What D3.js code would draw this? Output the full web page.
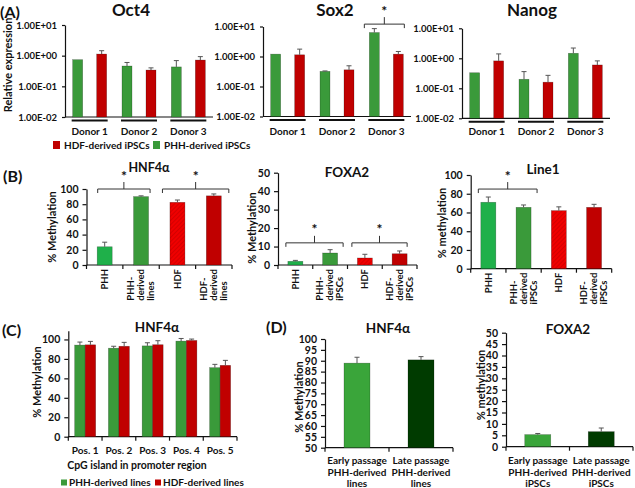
<!DOCTYPE html>
<html>
<head>
<meta charset="utf-8">
<title>iPSC expression and methylation</title>
<style>
  body { margin: 0; background: white; }
  svg text { font-family: Lato, "Open Sans", sans-serif; font-weight: bold; fill: #111; }
  .axis path, .axis line { stroke: #111; stroke-width: 1.2; }
</style>
<script src="https://d3js.org/d3.v7.min.js"></script>
</head>
<body>
<div id="chart"></div>
<script>
// ---- data ----
const donors = ["Donor 1", "Donor 2", "Donor 3"];
const logTicks = [0.01, 0.1, 1, 10];
const oct4Phh = [0.74, 0.46, 0.43], oct4PhhErr = [0, 0.14, 0.26];
const oct4Hdf = [1.13, 0.34, 0.72], oct4HdfErr = [0.32, 0.06, 0.21];
const sox2Phh = [1.2, 0.32, 6.3], sox2PhhErr = [0, 0.01, 2.2];
const sox2Hdf = [1.14, 0.36, 1.2], sox2HdfErr = [0.62, 0.13, 0.27];
const nanogPhh = [0.33, 0.2, 1.47], nanogPhhErr = [0, 0.16, 0.73];
const nanogHdf = [0.82, 0.16, 0.6], nanogHdfErr = [0.58, 0.11, 0.22];

const cellLines = ["PHH", "PHH-\nderived\nlines", "HDF", "HDF-\nderived\nlines"];
const cellIpsc = ["PHH", "PHH-\nderived\niPSCs", "HDF", "HDF-\nderived\niPSCs"];
const hnf4a = [24, 90, 82.5, 91], hnf4aErr = [6, 1, 3, 2.5];
const foxa2 = [2, 6.5, 3.8, 6.1], foxa2Err = [0.5, 1.8, 2, 1.5];
const line1 = [70.9, 65.5, 62, 65.5], line1Err = [5.6, 2.5, 4, 3.2];

const positions = ["Pos. 1", "Pos. 2", "Pos. 3", "Pos. 4", "Pos. 5"];
const posPhh = [94.2, 91, 93.4, 98.3, 71], posPhhErr = [3.1, 2, 3.2, 2.7, 3.4];
const posHdf = [94.5, 93, 94.6, 99, 73.4], posHdfErr = [3.5, 4, 4.1, 1.4, 5.1];

const passageLines = ["Early passage\nPHH-derived\nlines", "Late passage\nPHH-derived\nlines"];
const passageIpsc = ["Early passage\nPHH-derived\niPSCs", "Late passage\nPHH-derived\niPSCs"];
const dHnf4a = [88.9, 90.4], dHnf4aErr = [2.7, 1.5];
const dFoxa2 = [5.3, 6.6], dFoxa2Err = [0.5, 1.6];

// ---- colours ----
const green = "#3a9a3a", red = "#c00000";
const brightGreen = "#1fb04a", darkGreen = "#003b00", earlyGreen = "#3aa53a";

const svg = d3.select("#chart").append("svg")
  .attr("width", 635).attr("height", 488);

// hatched red for HDF
const pat = svg.append("defs").append("pattern")
  .attr("id", "hatch").attr("patternUnits", "userSpaceOnUse")
  .attr("width", 3).attr("height", 3)
  .attr("patternTransform", "rotate(45)");
pat.append("rect").attr("width", 3).attr("height", 3).attr("fill", "#f00000");
pat.append("line").attr("x1", 0).attr("y1", 0).attr("x2", 0).attr("y2", 3)
  .attr("stroke", "#b80000").attr("stroke-width", 1);
const hdfHatch = "url(#hatch)";

const fmtExp = d => {
  const e = Math.round(Math.log10(d));
  return "1.00E" + (e < 0 ? "-" : "+") + String(Math.abs(e)).padStart(2, "0");
};

function barChart(o) {
  const g = svg.append("g");
  const x = d3.scaleBand().domain(d3.range(o.cats.length)).range([o.left, o.right]);
  const y = o.y;
  const base = y.range()[0];

  g.append("g").attr("class", "axis")
    .attr("transform", `translate(${o.left},0)`)
    .call(d3.axisLeft(y).tickValues(o.ticks).tickFormat(o.fmt || (d => d))
      .tickSize(o.tickSize || 4).tickSizeOuter(0).tickPadding(o.tickPad || 4))
    .call(a => a.selectAll("text").style("font-size", (o.tickFont || 10.5) + "px"));

  const xa = g.append("g").attr("class", "axis");
  xa.append("line").attr("x1", o.left).attr("x2", o.right)
    .attr("y1", base).attr("y2", base);
  if (o.xTicks !== false) {
    xa.selectAll(".xt").data(d3.range(o.cats.length + 1)).join("line")
      .attr("x1", i => o.left + i * x.bandwidth()).attr("x2", i => o.left + i * x.bandwidth())
      .attr("y1", base).attr("y2", base + 4);
  }

  // bars
  const n = o.series.length;
  o.series.forEach((s, si) => {
    const off = (si - (n - 1) / 2) * o.step;
    const pts = s.vals.map((v, i) => ({
      v, e: s.errs[i], c: x(i) + x.bandwidth() / 2 + off,
      fill: Array.isArray(s.fill) ? s.fill[i] : s.fill
    }));
    g.selectAll(null).data(pts).join("rect")
      .attr("x", d => d.c - o.barW / 2)
      .attr("width", o.barW)
      .attr("y", d => y(d.v))
      .attr("height", d => base - y(d.v))
      .attr("fill", d => d.fill)
      .attr("stroke", "rgba(0,0,0,0.35)").attr("stroke-width", 0.6);
    g.selectAll(null).data(pts.filter(d => d.e > 0)).join("path")
      .attr("d", d => {
        const y1 = y(d.v), y2 = y(d.v + d.e);
        return `M${d.c},${y1}V${y2}M${d.c - 2.5},${y2}H${d.c + 2.5}`;
      })
      .attr("stroke", "#555").attr("stroke-width", 1).attr("fill", "none");
  });

  // category labels
  o.cats.forEach((c, i) => {
    const cx = x(i) + x.bandwidth() / 2;
    const lines = c.split("\n");
    const fs = o.catFont || 9.5;
    if (o.rotate) {
      const t = g.append("text").style("font-size", fs + "px")
        .attr("transform", `translate(${cx},${base + 4}) rotate(-90)`);
      const spans = lines.map((l, k) => t.append("tspan")
        .attr("y", (k - (lines.length - 1) / 2) * o.lineH + fs * 0.35).text(l));
      const maxLen = d3.max(spans, s => s.node().getComputedTextLength());
      spans.forEach(s => s.attr("x", -maxLen));
    } else {
      const t = g.append("text").attr("text-anchor", "middle").style("font-size", fs + "px");
      lines.forEach((l, k) => t.append("tspan").attr("x", cx)
        .attr("y", o.catY + k * (o.lineH || 11)).text(l));
    }
  });

  // brackets
  (o.brackets || []).forEach(b => {
    const cA = x(b.a) + x.bandwidth() / 2, cB = x(b.b) + x.bandwidth() / 2;
    const x1 = cA - b.pad[0], x2 = cB + b.pad[1], yb = y(b.level);
    const xm = (x1 + x2) / 2;
    g.append("path")
      .attr("d", `M${x1},${yb + 4}V${yb}H${x2}V${yb + 4}M${xm},${yb}V${yb - 7}`)
      .attr("stroke", "#333").attr("stroke-width", 1).attr("fill", "none");
    g.append("text").attr("x", xm).attr("y", yb - 8.5).attr("text-anchor", "middle")
      .style("font-size", "14px").text("*");
  });

  // title and y label
  g.append("text").attr("x", o.title[1]).attr("y", o.title[2]).attr("text-anchor", "middle")
    .style("font-size", (o.titleFont || 13.5) + "px").text(o.title[0]);
  if (o.ylab[0]) {
    g.append("text").attr("text-anchor", "middle").style("font-size", (o.yFont || 11) + "px")
      .attr("transform", `translate(${o.ylab[1]},${o.ylab[2]}) rotate(-90)`).text(o.ylab[0]);
  }
  return {g, x, y};
}

// ---- (A) relative expression, log scale ----
const aPanels = [
  {name: "Oct4", left: 65, top: 25, bot: 117, phh: oct4Phh, phhE: oct4PhhErr, hdf: oct4Hdf, hdfE: oct4HdfErr, tx: 131},
  {name: "Sox2", left: 263, top: 26.5, bot: 116.5, phh: sox2Phh, phhE: sox2PhhErr, hdf: sox2Hdf, hdfE: sox2HdfErr, tx: 335,
   brackets: [{a: 2, b: 2, level: 12, pad: [22, 18]}]},
  {name: "Nanog", left: 462, top: 28.3, bot: 118.3, phh: nanogPhh, phhE: nanogPhhErr, hdf: nanogHdf, hdfE: nanogHdfErr, tx: 532}
];
aPanels.forEach((p, k) => {
  const r = barChart({
    left: p.left, right: p.left + 148, cats: donors, rotate: false, catY: 135, catFont: 10,
    y: d3.scaleLog().domain([0.01, 10]).range([p.bot, p.top]),
    ticks: logTicks, fmt: fmtExp, tickSize: 3, tickPad: 5, tickFont: 9.5, xTicks: false,
    series: [{vals: p.phh, errs: p.phhE, fill: green}, {vals: p.hdf, errs: p.hdfE, fill: red}],
    barW: 10, step: 24, brackets: p.brackets,
    title: [p.name, p.tx, 16], titleFont: 17,
    ylab: [k === 0 ? "Relative expression" : "", 11.5, 65]
  });
  // donor underlines
  r.g.selectAll(null).data(donors).join("line")
    .attr("x1", (d, i) => r.x(i) + r.x.bandwidth() / 2 - 18)
    .attr("x2", (d, i) => r.x(i) + r.x.bandwidth() / 2 + 18)
    .attr("y1", p.bot + 3.5).attr("y2", p.bot + 3.5)
    .attr("stroke", "#111").attr("stroke-width", 2);
});

// legend (A)
const legA = [{label: "HDF-derived iPSCs", fill: red, x: 53}, {label: "PHH-derived iPSCs", fill: green, x: 153}];
legA.forEach(l => {
  svg.append("rect").attr("x", l.x).attr("y", 141).attr("width", 7).attr("height", 8).attr("fill", l.fill);
  svg.append("text").attr("x", l.x + 11).attr("y", 148.5).style("font-size", "10px").text(l.label);
});

// ---- (B) methylation, cell types ----
const bFills = [brightGreen, green, hdfHatch, red];
barChart({
  left: 86.5, right: 232, cats: cellLines, rotate: true, lineH: 10, catFont: 9.5,
  y: d3.scaleLinear().domain([0, 100]).range([265, 189]), ticks: d3.range(0, 101, 20),
  series: [{vals: hnf4a, errs: hnf4aErr, fill: bFills}], barW: 15, step: 0,
  brackets: [{a: 0, b: 1, level: 100, pad: [7, 9]}, {a: 2, b: 3, level: 100, pad: [15, 15]}],
  title: ["HNF4α", 149, 172], titleFont: 12.5, ylab: ["% Methylation", 56, 227]
});
barChart({
  left: 278, right: 417, cats: cellIpsc, rotate: true, lineH: 10, catFont: 9.5,
  y: d3.scaleLinear().domain([0, 50]).range([265, 172.7]), ticks: d3.range(0, 51, 10),
  series: [{vals: foxa2, errs: foxa2Err, fill: bFills}], barW: 15, step: 0,
  brackets: [{a: 0, b: 1, level: 12, pad: [9.5, 13]}, {a: 2, b: 3, level: 12, pad: [13, 7.5]}],
  title: ["FOXA2", 347, 177], ylab: ["% Methylation", 256, 228]
});
barChart({
  left: 470.7, right: 611.7, cats: cellIpsc, rotate: true, lineH: 10, catFont: 9.5,
  y: d3.scaleLinear().domain([0, 100]).range([268.7, 175]), ticks: d3.range(0, 101, 20),
  series: [{vals: line1, errs: line1Err, fill: bFills}], barW: 15, step: 0,
  brackets: [{a: 0, b: 1, level: 85, pad: [10, 13.5]}],
  title: ["Line1", 543, 174], ylab: ["% methylation", 446, 223]
});

// ---- (C) CpG positions ----
barChart({
  left: 68.3, right: 237, cats: positions, rotate: false, catY: 454, catFont: 10,
  y: d3.scaleLinear().domain([0, 109]).range([436.7, 330.7]), ticks: d3.range(0, 101, 20),
  series: [{vals: posPhh, errs: posPhhErr, fill: green}, {vals: posHdf, errs: posHdfErr, fill: red}],
  barW: 10.5, step: 10.5,
  title: ["HNF4α", 157, 332], ylab: ["% Methylation", 41, 382]
});
svg.append("text").attr("x", 137).attr("y", 469).attr("text-anchor", "middle")
  .style("font-size", "10.5px").text("CpG island in promoter region");
const legC = [{label: "PHH-derived lines", fill: green, x: 61}, {label: "HDF-derived lines", fill: red, x: 155}];
legC.forEach(l => {
  svg.append("rect").attr("x", l.x).attr("y", 479.5).attr("width", 6).attr("height", 6).attr("fill", l.fill);
  svg.append("text").attr("x", l.x + 8).attr("y", 486).style("font-size", "10px").text(l.label);
});

// ---- (D) passages ----
const dFills = [earlyGreen, darkGreen];
barChart({
  left: 325, right: 453, cats: passageLines, rotate: false, catY: 464, lineH: 11.5, catFont: 10,
  y: d3.scaleLinear().domain([50, 100]).range([447.7, 339]), ticks: d3.range(50, 101, 5),
  series: [{vals: dHnf4a, errs: dHnf4aErr, fill: dFills}], barW: 26, step: 0,
  title: ["HNF4α", 388, 333], ylab: ["% Methylation", 303, 397]
});
barChart({
  left: 506, right: 633, cats: passageIpsc, rotate: false, catY: 464, lineH: 11.5, catFont: 10,
  y: d3.scaleLinear().domain([0, 50]).range([446.7, 332.7]), ticks: d3.range(0, 51, 5),
  series: [{vals: dFoxa2, errs: dFoxa2Err, fill: dFills}], barW: 26, step: 0,
  title: ["FOXA2", 568, 334], ylab: ["% methylation", 485, 385]
});

// panel letters
[["(A)", 0, 18], ["(B)", 3, 182], ["(C)", 2, 336], ["(D)", 266, 333]].forEach(p => {
  svg.append("text").attr("x", p[1]).attr("y", p[2]).style("font-size", "16px").text(p[0]);
});
</script>
</body>
</html>
